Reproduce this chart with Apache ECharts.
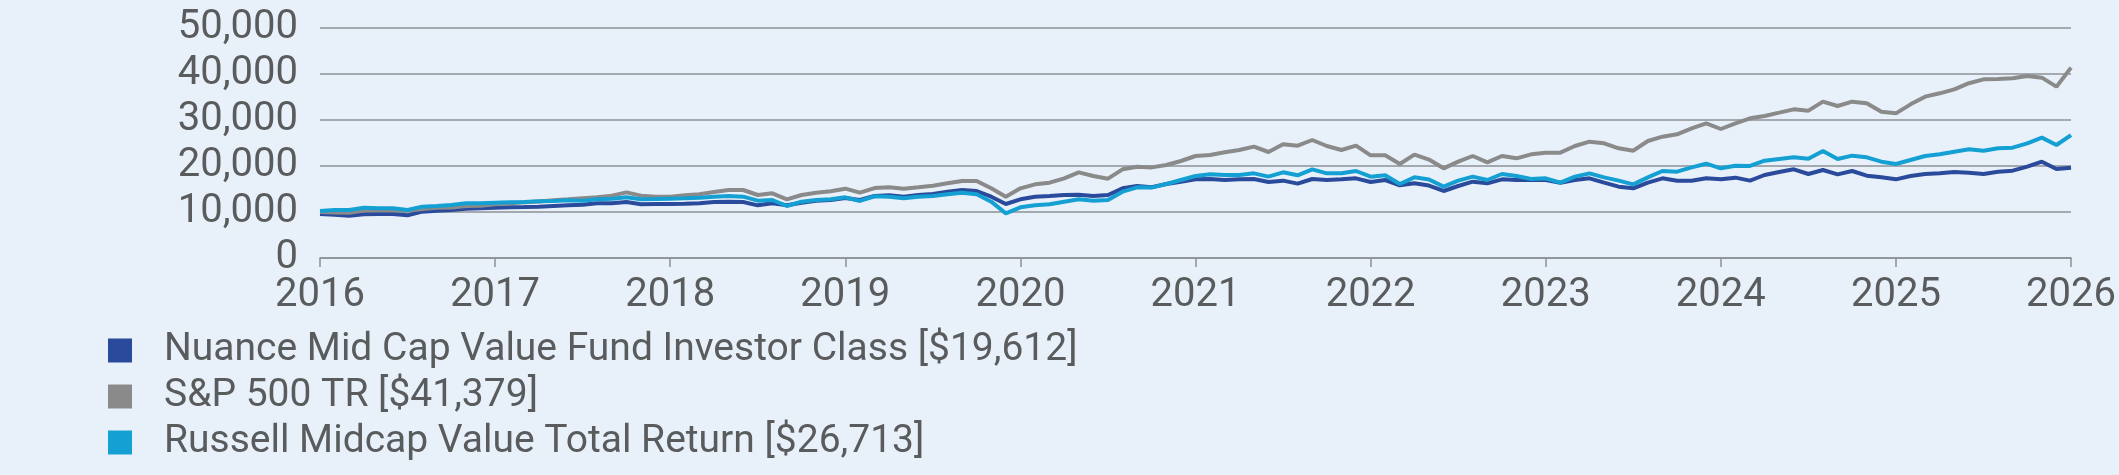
<!DOCTYPE html>
<html>
<head>
<meta charset="utf-8">
<script src="https://cdn.jsdelivr.net/npm/echarts@6/dist/echarts.min.js"></script>
<style>
  html, body { margin: 0; padding: 0; background: #e8f1fa; }
  #chart { width: 2119px; height: 475px; }
</style>
</head>
<body>
<div id="chart"></div>
<script>
// x positions are month indices, 0 .. 120; a year label every 12 months
const yearLabels = ['2016', '2017', '2018', '2019', '2020', '2021', '2022', '2023', '2024', '2025', '2026'];

const seriesNames = [
  'Nuance Mid Cap Value Fund Investor Class [$19,612]',
  'S&P 500 TR [$41,379]',
  'Russell Midcap Value Total Return [$26,713]'
];

const fundValues = [
  9566, 9421, 9203, 9493, 9566, 9566, 9276, 10073, 10290, 10435, 10725, 10798,
  10942, 11015, 11087, 11160, 11305, 11450, 11595, 11885, 11885, 12174, 11667, 11740,
  11740, 11812, 11885, 12174, 12247, 12174, 11450, 11885, 11450, 12030, 12464, 12609,
  13044, 12600, 13479, 13624, 13334, 13696, 13914, 14421, 14783, 14566, 13334, 11740,
  12754, 13334, 13479, 13696, 13769, 13479, 13696, 15146, 15653, 15400, 16088, 16595,
  17102, 17175, 16957, 17102, 17175, 16522, 16812, 16160, 17175, 16957, 17102, 17320,
  16522, 16957, 15798, 16233, 15750, 14566, 15653, 16595, 16233, 17102, 16957, 16957,
  16957, 16378, 16957, 17320, 16378, 15508, 15146, 16378, 17320, 16812, 16812, 17350,
  17102, 17465, 16812, 18044, 18696, 19276, 18262, 19131, 18189, 18914, 17899, 17537,
  17102, 17827, 18262, 18407, 18696, 18551, 18262, 18769, 18987, 19856, 20943, 19349,
  19612
];

const spValues = [
  10000, 9900, 9850, 10300, 10350, 10400, 10250, 10650, 10900, 11000, 11300, 11350,
  11700, 11900, 12100, 12300, 12550, 12750, 12971, 13189, 13551, 14276, 13551, 13334,
  13334, 13624, 13841, 14348, 14783, 14783, 13696, 14058, 12754, 13696, 14203, 14493,
  15073, 14203, 15200, 15363, 15073, 15363, 15725, 16233, 16740, 16740, 15146, 13334,
  15146, 16015, 16378, 17320, 18624, 17827, 17247, 19276, 19856, 19700, 20218, 21088,
  22175, 22392, 22972, 23479, 24204, 23044, 24711, 24421, 25653, 24349, 23479, 24421,
  22320, 22320, 20436, 22465, 21400, 19494, 20943, 22175, 20798, 22175, 21667, 22537,
  22899, 22899, 24349, 25291, 24928, 23842, 23334, 25436, 26378, 26885, 28190, 29277,
  28045, 29277, 30364, 30871, 31595, 32320, 32030, 33987, 33045, 33987, 33625, 31813,
  31450, 33407, 35074, 35799, 36668, 38000, 38842, 38915, 39060, 39567, 39205, 37248,
  41379
];

const russellValues = [
  10218, 10435, 10435, 10942, 10798, 10798, 10435, 11160, 11305, 11522, 11885, 11885,
  12030, 12102, 12174, 12320, 12392, 12537, 12464, 12754, 12899, 13189, 12754, 12826,
  12899, 12971, 13116, 13334, 13479, 13334, 12464, 12609, 11305, 12247, 12609, 12754,
  13189, 12400, 13400, 13334, 12971, 13334, 13479, 13841, 14203, 13841, 12247, 9711,
  11015, 11450, 11667, 12247, 12754, 12464, 12609, 14421, 15363, 15300, 16088, 16957,
  17827, 18189, 18044, 18044, 18407, 17682, 18624, 17972, 19276, 18407, 18407, 18914,
  17682, 17972, 16088, 17537, 17050, 15508, 16812, 17682, 16957, 18262, 17827, 17175,
  17320, 16378, 17682, 18407, 17537, 16812, 16015, 17537, 18914, 18769, 19711, 20500,
  19494, 20073, 20001, 21160, 21523, 21885, 21595, 23262, 21523, 22247, 21885, 20943,
  20436, 21305, 22175, 22537, 23117, 23625, 23334, 23842, 23987, 24928, 26161, 24566,
  26713
];

const colors = ['#2a4b9b', '#8a8a8a', '#14a0d3'];

const toPoints = arr => arr.map((v, i) => [i, v]);

const chart = echarts.init(document.getElementById('chart'), null, { renderer: 'canvas' });

const labelFont = {
  fontFamily: 'Roboto',
  fontSize: 40,
  color: '#5a5b5d'
};

const option = {
  backgroundColor: '#e8f1fa',
  animation: false,
  textStyle: { fontFamily: 'Roboto' },
  grid: {
    left: 320,
    right: 45,
    top: 28,
    bottom: 217
  },
  legend: {
    data: seriesNames,
    orient: 'vertical',
    left: 103,
    top: 326,
    icon: 'rect',
    itemWidth: 24,
    itemHeight: 24,
    itemGap: 7,
    selectedMode: false,
    textStyle: {
      fontFamily: 'Roboto',
      fontSize: 39,
      color: '#5a5b5d',
      padding: [0, 0, 0, 27]
    }
  },
  xAxis: {
    type: 'value',
    min: 0,
    max: 120,
    interval: 12,
    axisLine: { show: true, lineStyle: { color: '#8c9096', width: 1.5 } },
    axisTick: { show: true, length: 9, lineStyle: { color: '#8c9096', width: 1.5 } },
    splitLine: { show: false },
    axisLabel: Object.assign({}, labelFont, {
      margin: 18,
      formatter: v => yearLabels[Math.round(v / 12)]
    })
  },
  yAxis: {
    type: 'value',
    min: 0,
    max: 50000,
    interval: 10000,
    axisLine: { show: false },
    axisTick: { show: false },
    splitLine: { show: true, lineStyle: { color: '#8c9096', width: 1.5 } },
    axisLabel: Object.assign({}, labelFont, {
      margin: 22,
      formatter: v => v.toLocaleString('en-US')
    })
  },
  series: [
    {
      name: seriesNames[0],
      type: 'line',
      data: toPoints(fundValues),
      showSymbol: false,
      color: colors[0],
      lineStyle: { width: 4, color: colors[0] }
    },
    {
      name: seriesNames[1],
      type: 'line',
      data: toPoints(spValues),
      showSymbol: false,
      color: colors[1],
      lineStyle: { width: 4, color: colors[1] }
    },
    {
      name: seriesNames[2],
      type: 'line',
      data: toPoints(russellValues),
      showSymbol: false,
      color: colors[2],
      lineStyle: { width: 4, color: colors[2] }
    }
  ]
};

chart.setOption(option);
</script>
</body>
</html>
